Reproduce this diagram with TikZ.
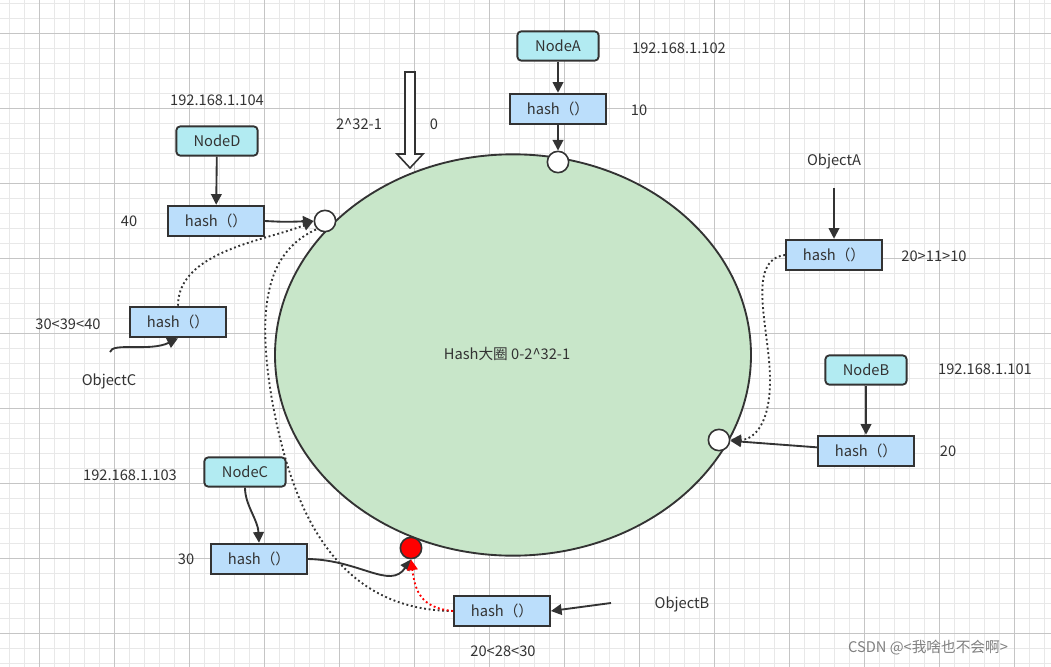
\documentclass[tikz,border=0pt]{standalone}
\usepackage{fontspec}
\setmainfont{Noto Sans CJK SC}
\usetikzlibrary{arrows.meta,shapes.geometric}
\definecolor{gridc}{RGB}{232,232,232}
\definecolor{boxb}{RGB}{187,222,251}
\definecolor{boxn}{RGB}{178,235,242}
\definecolor{ringc}{RGB}{200,230,201}
\definecolor{txt}{RGB}{51,51,51}
\tikzset{
 every node/.style={font=\fontsize{11}{13}\selectfont, text=txt},
 hb/.style={draw=txt, line width=1.4pt, fill=boxb, minimum width=72pt, minimum height=23pt},
 nb/.style={draw=txt, line width=1.4pt, fill=boxn, rounded corners=3pt, minimum width=61pt, minimum height=22pt},
 pt/.style={circle, draw=txt, line width=1.2pt, fill=white, minimum size=16pt, inner sep=0pt},
 ar/.style={draw=txt, line width=1.4pt, -{Triangle[length=8pt,width=8pt]}},
 dt/.style={draw=txt, line width=1.4pt, dotted},
 dta/.style={dt, -{Triangle[length=8pt,width=8pt]}},
}
\begin{document}
\begin{tikzpicture}[x=0.75pt,y=-0.75pt]
\useasboundingbox (0,0) rectangle (1051,667);
\fill[white] (0,0) rectangle (1051,667);
\foreach \i in {0,...,70} {\draw[gridc, line width=0.4pt] (\i*15+9,0) -- (\i*15+9,667);}
\foreach \i in {0,...,44} {\draw[gridc, line width=0.4pt] (0,\i*15+3) -- (1051,\i*15+3);}
\foreach \i in {0,...,14} {\draw[gridc!85!black, line width=0.6pt] (\i*75+39,0) -- (\i*75+39,667);}
\foreach \i in {0,...,9} {\draw[gridc!85!black, line width=0.6pt] (0,\i*75+33) -- (1051,\i*75+33);}

\node[ellipse, draw=txt, line width=1.4pt, fill=ringc, minimum width=357pt, minimum height=301pt] (ring) at (513,355) {};
\node (ringt) at (507,354) {Hash大圈 0-2\textasciicircum 32-1};

\node[pt] (ca) at (558,162) {};
\node[pt] (cd) at (325,221) {};
\node[pt] (cb) at (719,440) {};
\node[pt, fill=red] (cr) at (411,548) {};

\node[nb] (na) at (558,46) {NodeA};
\node[hb] (ha) at (558,109) {hash（）};
\node[nb] (nd) at (217,141) {NodeD};
\node[hb] (hd) at (216,221) {hash（）};
\node[hb] (hc2) at (178,322) {hash（）};
\node[nb] (nc) at (245,472) {NodeC};
\node[hb] (hc) at (259,559) {hash（）};
\node[hb] (hob) at (502,611) {hash（）};
\node[hb] (hoa) at (834,255) {hash（）};
\node[nb] (nbb) at (866,370) {NodeB};
\node[hb] (hb) at (866,451) {hash（）};

\node (t1) at (679,48) {192.168.1.102};
\node (t2) at (639,110) {10};
\node (t3) at (217,100) {192.168.1.104};
\node (t4) at (129,221) {40};
\node (t5) at (359,124) {2\textasciicircum 32-1};
\node (t6) at (434,124) {0};
\node (oa) at (834,161) {ObjectA};
\node (t7) at (934,256) {20>11>10};
\node (t8) at (985,369) {192.168.1.101};
\node (t9) at (948,451) {20};
\node (t10) at (68,324) {30<39<40};
\node (oc) at (109,381) {ObjectC};
\node (t11) at (130,475) {192.168.1.103};
\node (t12) at (186,559) {30};
\node (ob) at (682,604) {ObjectB};
\node (t13) at (503,651) {20<28<30};
\node[text=gray] (wm) at (928,648) {CSDN @<我啥也不会啊>};

% hollow arrow
\draw[txt, line width=1.2pt, fill=white] (405,72) -- (415,72) -- (415,154) -- (423,154) -- (410,168) -- (397,154) -- (405,154) -- cycle;

\coordinate (oae) at (834,188);
\coordinate (obe) at (611,603);
\coordinate (oce) at (110,352);
\draw[ar] (na) -- (ha);
\draw[ar] (ha) -- (ca);
\draw[ar] (oae) -- (hoa);
\draw[ar] (nbb) -- (hb);
\draw[ar] (hb) -- (cb);
\draw[ar] (nd) -- (hd);
\draw[ar] (hd.east) .. controls (285,222) .. (cd.west);
\draw[ar] (obe) -- (hob.east);
\draw[ar] (oce) .. controls (112,342) and (150,352) .. (hc2.south);
\draw[ar] (nc.south) .. controls (245,505) and (258,520) .. (hc.north);
\draw[ar] (hc.east) .. controls (360,560) and (390,590) .. (cr.south);
\draw[dta] (hoa.west) .. controls (745,260) and (770,330) .. (770,380) .. controls (770,430) and (750,440) .. (cb.east);
\draw[dta] (hc2.north) .. controls (178,250) and (270,240) .. (cd.west);
\draw[dt] (hob.west) .. controls (330,610) and (290,500) .. (272,400) .. controls (255,300) and (270,250) .. (cd.south west);
\draw[line width=1.4pt, red, dotted, -{Triangle[length=8pt,width=8pt]}] (hob.west) .. controls (420,608) and (415,590) .. (cr.south);
\end{tikzpicture}
\end{document}
